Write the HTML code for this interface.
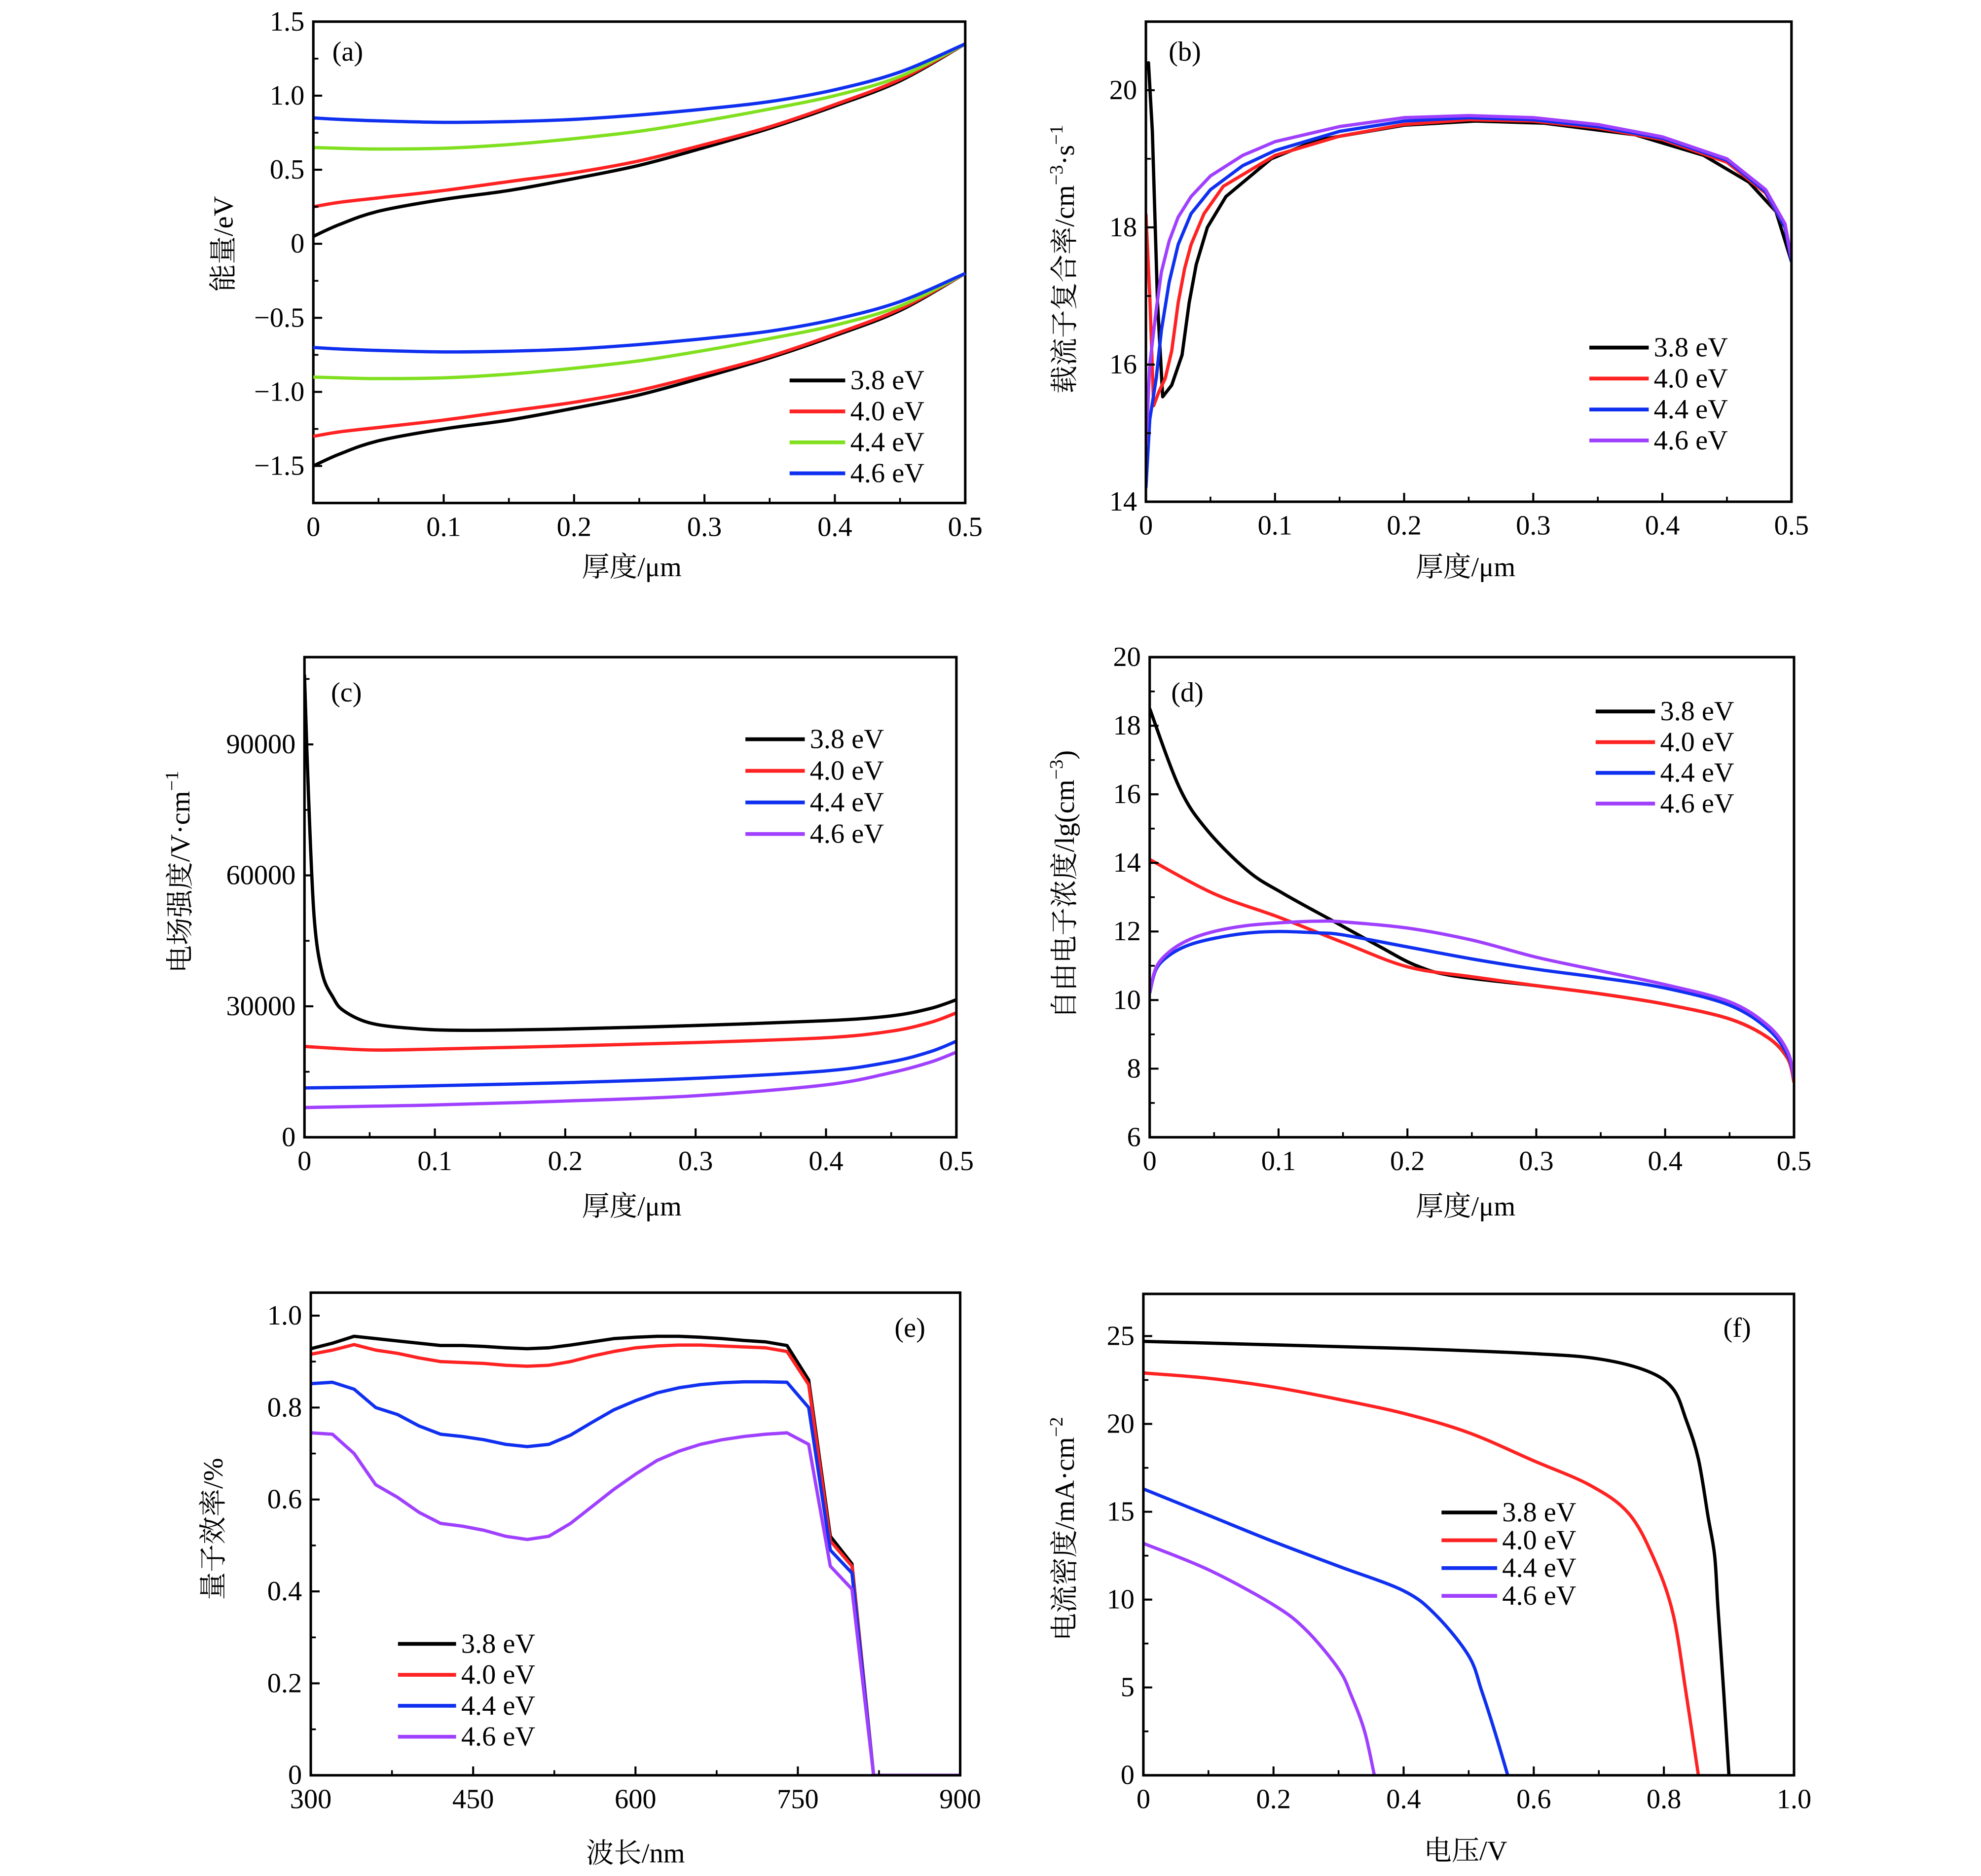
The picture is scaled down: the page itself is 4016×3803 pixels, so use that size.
<!DOCTYPE html>
<html><head><meta charset="utf-8"><style>
html,body{margin:0;padding:0;background:#fff;}
svg{display:block;}
text{font-family:"Liberation Serif","Noto Serif CJK SC",serif;fill:#000;}
.cjk{font-family:"Liberation Serif","Noto Serif CJK SC","Noto Sans CJK SC",serif;}
</style></head><body>
<svg id="fig" width="4016" height="3803" viewBox="0 0 1568 1484.6" xmlns="http://www.w3.org/2000/svg">
<rect width="1568" height="1484.6" fill="#fff"/>
</svg>
<script>
// ---- data: panel (a) energy bands ----
const aX = [0,0.02,0.05,0.1,0.15,0.2,0.25,0.3,0.35,0.4,0.45,0.5];
const aCb38 = [0.05,0.13,0.22,0.30,0.36,0.44,0.53,0.65,0.78,0.93,1.10,1.35];
const aCb40 = [0.25,0.28,0.31,0.36,0.42,0.48,0.56,0.67,0.79,0.94,1.11,1.35];
const aCb44 = [0.65,0.645,0.64,0.645,0.67,0.71,0.76,0.83,0.91,1.00,1.13,1.35];
const aCb46 = [0.85,0.84,0.83,0.82,0.825,0.84,0.87,0.91,0.96,1.04,1.16,1.35];
const aVb38 = [-1.50,-1.42,-1.33,-1.25,-1.19,-1.11,-1.02,-0.90,-0.77,-0.62,-0.45,-0.20];
const aVb40 = [-1.30,-1.27,-1.24,-1.19,-1.13,-1.07,-0.99,-0.88,-0.76,-0.61,-0.44,-0.20];
const aVb44 = [-0.90,-0.905,-0.91,-0.905,-0.88,-0.84,-0.79,-0.72,-0.64,-0.55,-0.42,-0.20];
const aVb46 = [-0.70,-0.71,-0.72,-0.73,-0.725,-0.71,-0.68,-0.64,-0.59,-0.51,-0.39,-0.20];
// ---- panel (b) recombination ----
const bX38 = [0,0.002,0.005,0.009,0.013,0.02,0.028,0.0335,0.039,0.0476,0.062,0.097,0.132,0.2,0.255,0.308,0.379,0.432,0.467,0.488,0.5];
const bY38 = [20.3,20.4,19.4,16.9,15.53,15.7,16.14,16.9,17.46,18.0,18.45,19.0,19.27,19.49,19.55,19.52,19.35,19.05,18.66,18.23,17.5];
const bX40 = [0,0.003,0.006,0.01,0.015,0.02,0.025,0.03,0.035,0.045,0.06,0.1,0.15,0.2,0.25,0.3,0.35,0.4,0.45,0.48,0.495,0.5];
const bY40 = [18.2,17.0,15.4,15.6,15.8,16.2,16.9,17.4,17.75,18.2,18.6,19.05,19.33,19.5,19.57,19.55,19.45,19.28,18.95,18.5,18.0,17.5];
const bX44 = [0,0.003,0.008,0.012,0.018,0.025,0.035,0.05,0.075,0.1,0.15,0.2,0.25,0.3,0.35,0.4,0.45,0.48,0.495,0.5];
const bY44 = [14.2,15.2,15.8,16.5,17.2,17.75,18.2,18.55,18.9,19.12,19.4,19.55,19.6,19.57,19.47,19.3,18.98,18.52,18.0,17.5];
const bY46 = [14.8,16.0,16.8,17.35,17.8,18.15,18.45,18.75,19.05,19.25,19.47,19.6,19.63,19.6,19.5,19.32,19.0,18.55,18.05,17.55];
// ---- panel (c) electric field ----
const cX38 = [0,0.003,0.0074,0.0136,0.022,0.03,0.05,0.08,0.12,0.2,0.3,0.4,0.45,0.48,0.5];
const cY38 = [106000,79000,50500,37600,32000,29000,26200,25000,24500,24800,25600,26700,27800,29500,31500];
const cX = [0,0.05,0.1,0.2,0.3,0.4,0.45,0.48,0.5];
const cY40 = [20800,20000,20200,20900,21700,22800,24300,26300,28500];
const cY44 = [11300,11500,11800,12500,13500,15200,17300,19600,22000];
const cY46 = [6800,7100,7400,8300,9500,12000,14800,17200,19500];
// ---- panel (d) electron concentration ----
const dX38 = [0,0.023,0.044,0.076,0.104,0.146,0.178,0.206,0.235,0.3,0.35,0.4,0.45,0.48,0.495,0.5];
const dY38 = [18.5,16.2,14.98,13.77,13.1,12.23,11.57,11.02,10.71,10.42,10.18,9.88,9.45,8.9,8.3,7.7];
const dX40 = [0,0.05,0.1,0.15,0.2,0.25,0.3,0.35,0.4,0.45,0.48,0.495,0.5];
const dY40 = [14.1,13.1,12.42,11.68,10.97,10.68,10.42,10.18,9.88,9.45,8.9,8.3,7.6];
const dX4x = [0,0.005,0.015,0.03,0.05,0.075,0.1,0.13,0.15,0.2,0.25,0.3,0.35,0.4,0.45,0.48,0.495,0.5];
const dY44 = [10.2,10.9,11.3,11.6,11.8,11.95,12.0,11.96,11.9,11.55,11.2,10.9,10.65,10.35,9.85,9.15,8.4,7.7];
const dY46 = [10.2,10.95,11.4,11.75,12.0,12.17,12.25,12.3,12.28,12.1,11.75,11.25,10.85,10.45,9.95,9.25,8.5,7.7];
// ---- panel (e) quantum efficiency ----
const eX = [300,320,340,360,380,400,420,440,460,480,500,520,540,560,580,600,620,640,660,680,700,720,740,760,780,800,820,900];
const eY38 = [0.928,0.94,0.955,0.95,0.945,0.94,0.935,0.935,0.933,0.93,0.928,0.93,0.936,0.943,0.95,0.953,0.955,0.955,0.953,0.95,0.946,0.943,0.935,0.86,0.52,0.46,0,0];
const eY40 = [0.916,0.925,0.937,0.925,0.918,0.908,0.9,0.898,0.896,0.892,0.89,0.892,0.9,0.912,0.922,0.93,0.934,0.936,0.936,0.934,0.932,0.93,0.922,0.85,0.51,0.455,0,0];
const eY44 = [0.852,0.855,0.84,0.8,0.785,0.76,0.742,0.737,0.73,0.72,0.715,0.72,0.74,0.768,0.795,0.815,0.832,0.843,0.85,0.854,0.856,0.856,0.855,0.8,0.49,0.44,0,0];
const eY46 = [0.745,0.742,0.7,0.632,0.605,0.572,0.548,0.542,0.533,0.52,0.513,0.52,0.548,0.585,0.622,0.655,0.685,0.705,0.72,0.73,0.737,0.742,0.745,0.72,0.455,0.405,0,0];
// ---- panel (f) J-V ----
const fX38 = [0,0.2,0.4,0.6,0.7,0.775,0.814,0.834,0.853,0.868,0.878,0.883,0.892,0.9];
const fY38 = [24.7,24.5,24.3,24.0,23.7,23.0,22.0,20.25,18.0,14.7,12.5,9.6,4.7,0];
const fX40 = [0,0.1,0.2,0.3,0.4,0.5,0.6,0.687,0.746,0.785,0.814,0.834,0.853];
const fY40 = [22.9,22.6,22.1,21.4,20.6,19.5,17.9,16.5,14.9,12.3,9.2,4.7,0];
const fX44 = [0,0.1,0.2,0.3,0.4,0.45,0.5,0.52,0.54,0.56];
const fY44 = [16.3,14.8,13.3,11.9,10.5,9.1,6.8,4.8,2.5,0];
const fX46 = [0,0.1,0.2,0.25,0.3,0.32,0.34,0.355];
const fY46 = [13.2,11.7,9.7,8.27,6.05,4.5,2.5,0];
const legendLabels = ["3.8 eV","4.0 eV","4.4 eV","4.6 eV"];

const NS = "http://www.w3.org/2000/svg";
const svg = document.getElementById("fig");
const COL = {k:"#000000", r:"#ff2222", g:"#80e020", b:"#1030f0", p:"#a040ff"};
const FS = 22;

function mk(tag, attrs, parent){
  const e = document.createElementNS(NS, tag);
  for (const k in attrs) e.setAttribute(k, attrs[k]);
  (parent||svg).appendChild(e);
  return e;
}
function scale(d0,d1,r0,r1){ return v => r0 + (v-d0)/(d1-d0)*(r1-r0); }

function pathD(xs, ys, sx, sy, smooth){
  const P = xs.map((x,i)=>[sx(x), sy(ys[i])]);
  let d = "M"+P[0][0].toFixed(2)+","+P[0][1].toFixed(2);
  if (!smooth){ for (let i=1;i<P.length;i++) d += "L"+P[i][0].toFixed(2)+","+P[i][1].toFixed(2); return d; }
  for (let i=0;i<P.length-1;i++){
    const p0=P[Math.max(0,i-1)], p1=P[i], p2=P[i+1], p3=P[Math.min(P.length-1,i+2)];
    const c1=[p1[0]+(p2[0]-p0[0])/6, p1[1]+(p2[1]-p0[1])/6];
    const c2=[p2[0]-(p3[0]-p1[0])/6, p2[1]-(p3[1]-p1[1])/6];
    d += "C"+c1[0].toFixed(2)+","+c1[1].toFixed(2)+" "+c2[0].toFixed(2)+","+c2[1].toFixed(2)+" "+p2[0].toFixed(2)+","+p2[1].toFixed(2);
  }
  return d;
}

function panel(cfg){
  const g = mk("g", {});
  
  
  const sx = scale(cfg.xd[0], cfg.xd[1], cfg.L, cfg.R);
  const sy = scale(cfg.yd[0], cfg.yd[1], cfg.B, cfg.T);
  const sg = mk("g", {"clip-path":"url(#clip-"+cfg.id+")"}, g);
  const cp = mk("clipPath", {id:"clip-"+cfg.id}, g);
  mk("rect", {x:cfg.L, y:cfg.T-1, width:cfg.R-cfg.L, height:cfg.B-cfg.T+1}, cp);
  cfg.series.forEach(s=>{
    const p = mk("path", {d:pathD(s.x, s.y, sx, sy, cfg.smooth), fill:"none", stroke:s.c, "stroke-width":2.6, "stroke-linejoin":"round"}, sg);
    
    
  });
  const fr = mk("rect", {x:cfg.L, y:cfg.T, width:cfg.R-cfg.L, height:cfg.B-cfg.T, fill:"none", stroke:"#000", "stroke-width":2}, g);
  
  
  const xa = mk("g", {}, g);
  
  
  cfg.xt.forEach((v,i)=>{
    const x = sx(v);
    mk("line", {x1:x, x2:x, y1:cfg.B, y2:cfg.B-7, stroke:"#000", "stroke-width":1.6}, xa);
    const t = mk("text", {x:x, y:cfg.B+26, "text-anchor":"middle", "font-size":FS}, xa);
    t.textContent = cfg.xl[i];
    
    
  });
  cfg.xm.forEach(v=>{ const x=sx(v); mk("line",{x1:x,x2:x,y1:cfg.B,y2:cfg.B-4,stroke:"#000","stroke-width":1.4},xa); });
  const ya = mk("g", {}, g);
  
  
  cfg.yt.forEach((v,i)=>{
    const y = sy(v);
    mk("line", {x1:cfg.L, x2:cfg.L+7, y1:y, y2:y, stroke:"#000", "stroke-width":1.6}, ya);
    const t = mk("text", {x:cfg.L-7, y:y+7, "text-anchor":"end", "font-size":FS}, ya);
    t.textContent = cfg.yl[i];
    
    
  });
  cfg.ym.forEach(v=>{ const y=sy(v); mk("line",{x1:cfg.L,x2:cfg.L+4,y1:y,y2:y,stroke:"#000","stroke-width":1.4},ya); });
  const tag = mk("text", {x:cfg.tag[0], y:cfg.tag[1], "font-size":FS}, g);
  tag.textContent = cfg.tagText;
  
  
  const lg = mk("g", {}, g);
  
  
  cfg.series.forEach((s,i)=>{
    const y = cfg.leg.y0 + i*cfg.leg.dy;
    const en = mk("g", {}, lg);
    
    
    mk("line", {x1:cfg.leg.x0, x2:cfg.leg.x1, y1:y, y2:y, stroke:s.c, "stroke-width":3}, en);
    const t = mk("text", {x:cfg.leg.x1+4, y:y+7, "font-size":FS}, en);
    t.textContent = legendLabels[i];
  });
  const xt = mk("text", {x:cfg.xtitle[0], y:cfg.xtitle[1], "text-anchor":"middle", "font-size":FS, class:"cjk"}, g);
  xt.textContent = cfg.xtitleText;
  
  
  const yt = mk("text", {x:0, y:0, "text-anchor":"middle", "font-size":FS, class:"cjk", transform:"translate("+cfg.ytitle[0]+","+cfg.ytitle[1]+") rotate(-90)"}, g);
  yt.innerHTML = cfg.ytitleHTML;
  
  
}

const thick = [0,0.1,0.2,0.3,0.4,0.5], thickL = ["0","0.1","0.2","0.3","0.4","0.5"], thickM=[0.05,0.15,0.25,0.35,0.45];

panel({id:"a", name:"panel-a-energy-bands", L:248, R:764, T:17, B:398, xd:[0,0.5], yd:[-1.75,1.5], smooth:true,
  xt:thick, xl:thickL, xm:thickM,
  yt:[-1.5,-1,-0.5,0,0.5,1,1.5], yl:["\u22121.5","\u22121.0","\u22120.5","0","0.5","1.0","1.5"], ym:[-1.25,-0.75,-0.25,0.25,0.75,1.25],
  tag:[263,48], tagText:"(a)", leg:{x0:625,x1:669,y0:301,dy:24.5},
  xtitle:[500,456], xtitleText:"厚度/μm", ytitle:[184,193], ytitleHTML:"能量/eV",
  series:[
    {name:"series-3.8ev-cb", x:aX, y:aCb38, c:COL.k},{name:"series-4.0ev-cb", x:aX, y:aCb40, c:COL.r},
    {name:"series-4.4ev-cb", x:aX, y:aCb44, c:COL.g},{name:"series-4.6ev-cb", x:aX, y:aCb46, c:COL.b}]
});
(function(){
  const sx = scale(0,0.5,248,764), sy = scale(-1.75,1.5,398,17);
  const vb = [[aVb38,COL.k,"series-3.8ev-vb"],[aVb40,COL.r,"series-4.0ev-vb"],[aVb44,COL.g,"series-4.4ev-vb"],[aVb46,COL.b,"series-4.6ev-vb"]];
  vb.forEach(v=>{
    const p = mk("path",{d:pathD(aX,v[0],sx,sy,true),fill:"none",stroke:v[1],"stroke-width":2.6});
    
    
  });
})();

panel({id:"b", name:"panel-b-recombination", L:907, R:1418, T:17, B:397, xd:[0,0.5], yd:[14,21], smooth:false,
  xt:thick, xl:thickL, xm:thickM,
  yt:[14,16,18,20], yl:["14","16","18","20"], ym:[15,17,19],
  tag:[925,48], tagText:"(b)", leg:{x0:1258,x1:1305,y0:275,dy:24.5},
  xtitle:[1160,456], xtitleText:"厚度/μm", ytitle:[850,205],
  ytitleHTML:'载流子复合率/cm<tspan font-size="15" dy="-9">−3</tspan><tspan dy="9">·s</tspan><tspan font-size="15" dy="-9">−1</tspan>',
  series:[
    {name:"series-3.8ev", x:bX38, y:bY38, c:COL.k},{name:"series-4.0ev", x:bX40, y:bY40, c:COL.r},
    {name:"series-4.4ev", x:bX44, y:bY44, c:COL.b},{name:"series-4.6ev", x:bX44, y:bY46, c:COL.p}]
});

panel({id:"c", name:"panel-c-electric-field", L:241, R:757, T:520, B:900, xd:[0,0.5], yd:[0,110000], smooth:true,
  xt:thick, xl:thickL, xm:thickM,
  yt:[0,30000,60000,90000], yl:["0","30000","60000","90000"], ym:[15000,45000,75000,105000],
  tag:[262,555], tagText:"(c)", leg:{x0:590,x1:637,y0:585,dy:25},
  xtitle:[500,962], xtitleText:"厚度/μm", ytitle:[150,690],
  ytitleHTML:'电场强度/V·cm<tspan font-size="15" dy="-9">−1</tspan>',
  series:[
    {name:"series-3.8ev", x:cX38, y:cY38, c:COL.k},{name:"series-4.0ev", x:cX, y:cY40, c:COL.r},
    {name:"series-4.4ev", x:cX, y:cY44, c:COL.b},{name:"series-4.6ev", x:cX, y:cY46, c:COL.p}]
});

panel({id:"d", name:"panel-d-electron-concentration", L:910, R:1420, T:520, B:900, xd:[0,0.5], yd:[6,20], smooth:true,
  xt:thick, xl:thickL, xm:thickM,
  yt:[6,8,10,12,14,16,18,20], yl:["6","8","10","12","14","16","18","20"], ym:[7,9,11,13,15,17,19],
  tag:[927,555], tagText:"(d)", leg:{x0:1263,x1:1310,y0:563,dy:24.3},
  xtitle:[1160,962], xtitleText:"厚度/μm", ytitle:[850,700],
  ytitleHTML:'自由电子浓度/lg(cm<tspan font-size="15" dy="-9">−3</tspan><tspan dy="9">)</tspan>',
  series:[
    {name:"series-3.8ev", x:dX38, y:dY38, c:COL.k},{name:"series-4.0ev", x:dX40, y:dY40, c:COL.r},
    {name:"series-4.4ev", x:dX4x, y:dY44, c:COL.b},{name:"series-4.6ev", x:dX4x, y:dY46, c:COL.p}]
});

panel({id:"e", name:"panel-e-quantum-efficiency", L:246, R:760, T:1023, B:1405, xd:[300,900], yd:[0,1.05], smooth:false,
  xt:[300,450,600,750,900], xl:["300","450","600","750","900"], xm:[375,525,675,825],
  yt:[0,0.2,0.4,0.6,0.8,1.0], yl:["0","0.2","0.4","0.6","0.8","1.0"], ym:[0.1,0.3,0.5,0.7,0.9],
  tag:[708,1058], tagText:"(e)", leg:{x0:315,x1:361,y0:1301,dy:24.5},
  xtitle:[503,1474], xtitleText:"波长/nm", ytitle:[176,1210], ytitleHTML:"量子效率/%",
  series:[
    {name:"series-3.8ev", x:eX, y:eY38, c:COL.k},{name:"series-4.0ev", x:eX, y:eY40, c:COL.r},
    {name:"series-4.4ev", x:eX, y:eY44, c:COL.b},{name:"series-4.6ev", x:eX, y:eY46, c:COL.p}]
});

panel({id:"f", name:"panel-f-jv-curve", L:905, R:1420, T:1024, B:1405, xd:[0,1.0], yd:[0,27.4], smooth:true,
  xt:[0,0.2,0.4,0.6,0.8,1.0], xl:["0","0.2","0.4","0.6","0.8","1.0"], xm:[0.1,0.3,0.5,0.7,0.9],
  yt:[0,5,10,15,20,25], yl:["0","5","10","15","20","25"], ym:[2.5,7.5,12.5,17.5,22.5],
  tag:[1364,1058], tagText:"(f)", leg:{x0:1141,x1:1185,y0:1197,dy:22},
  xtitle:[1160,1472], xtitleText:"电压/V", ytitle:[850,1210],
  ytitleHTML:'电流密度/mA·cm<tspan font-size="15" dy="-9">−2</tspan>',
  series:[
    {name:"series-3.8ev", x:fX38, y:fY38, c:COL.k},{name:"series-4.0ev", x:fX40, y:fY40, c:COL.r},
    {name:"series-4.4ev", x:fX44, y:fY44, c:COL.b},{name:"series-4.6ev", x:fX46, y:fY46, c:COL.p}]
});
</script>
</body></html>
